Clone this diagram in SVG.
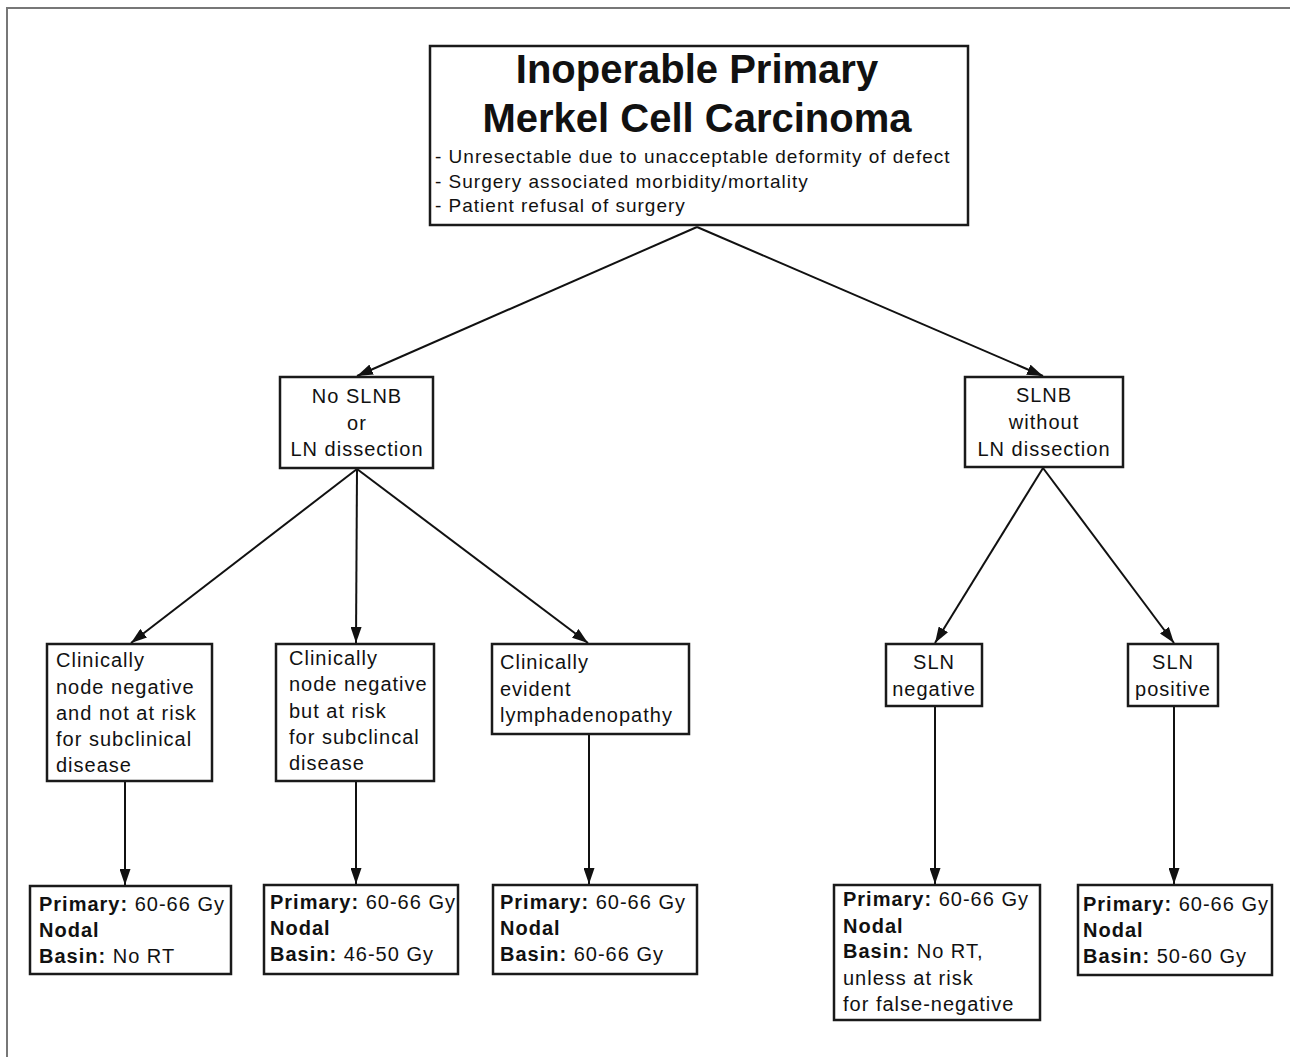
<svg xmlns="http://www.w3.org/2000/svg" width="1290" height="1057" viewBox="0 0 1290 1057">
<style>
.box{fill:#fff;stroke:#1a1a1a;stroke-width:2.5}
.t{font-family:"Liberation Sans",Arial,sans-serif;font-size:20px;letter-spacing:1px;fill:#111}
.c{text-anchor:middle}
.b{font-weight:bold}
.title{font-family:"Liberation Sans",Arial,sans-serif;font-size:40px;font-weight:bold;fill:#111;text-anchor:middle}
.bul{font-family:"Liberation Sans",Arial,sans-serif;font-size:19px;letter-spacing:1px;fill:#111}
.ln{stroke:#111;stroke-width:2;fill:none}
</style>
<defs>
<marker id="ah" viewBox="0 0 16 11" refX="16" refY="5.5" markerWidth="16" markerHeight="11" markerUnits="userSpaceOnUse" orient="auto">
<path d="M0,0 L16,5.5 L0,11 Z" fill="#111"/>
</marker>
</defs>
<rect x="0" y="0" width="1290" height="1057" fill="#fff"/>
<path d="M7,1057 L7,8 L1290,8" stroke="#777" stroke-width="2" fill="none"/>

<g id="connectors">
<line class="ln" x1="697" y1="227" x2="357" y2="376" marker-end="url(#ah)"/>
<line class="ln" x1="697" y1="227" x2="1043" y2="376" marker-end="url(#ah)"/>
<line class="ln" x1="357" y1="469" x2="131" y2="643" marker-end="url(#ah)"/>
<line class="ln" x1="357" y1="469" x2="356" y2="643" marker-end="url(#ah)"/>
<line class="ln" x1="357" y1="469" x2="588" y2="643" marker-end="url(#ah)"/>
<line class="ln" x1="1043" y1="468" x2="935" y2="643" marker-end="url(#ah)"/>
<line class="ln" x1="1043" y1="468" x2="1174" y2="643" marker-end="url(#ah)"/>
<line class="ln" x1="125" y1="782" x2="125" y2="885" marker-end="url(#ah)"/>
<line class="ln" x1="356" y1="782" x2="356" y2="884" marker-end="url(#ah)"/>
<line class="ln" x1="589" y1="735" x2="589" y2="884" marker-end="url(#ah)"/>
<line class="ln" x1="935" y1="707" x2="935" y2="884" marker-end="url(#ah)"/>
<line class="ln" x1="1174" y1="707" x2="1174" y2="884" marker-end="url(#ah)"/>
</g>

<g id="root">
<rect class="box" x="430" y="46" width="538" height="179"/>
<text class="title" x="697" y="83">Inoperable Primary</text>
<text class="title" x="697" y="132">Merkel Cell Carcinoma</text>
<text class="bul" x="435" y="163">- Unresectable due to unacceptable deformity of defect</text>
<text class="bul" x="435" y="188">- Surgery associated morbidity/mortality</text>
<text class="bul" x="435" y="212">- Patient refusal of surgery</text>
</g>

<g id="no-slnb">
<rect class="box" x="280" y="377" width="153" height="91"/>
<text class="t c" x="357" y="403">No SLNB</text>
<text class="t c" x="357" y="430">or</text>
<text class="t c" x="357" y="456">LN dissection</text>
</g>

<g id="slnb">
<rect class="box" x="965" y="377" width="158" height="90"/>
<text class="t c" x="1044" y="402">SLNB</text>
<text class="t c" x="1044" y="429">without</text>
<text class="t c" x="1044" y="456">LN dissection</text>
</g>

<g id="cn-neg-not-risk">
<rect class="box" x="47" y="644" width="165" height="137"/>
<text class="t" x="56" y="667">Clinically</text>
<text class="t" x="56" y="694">node negative</text>
<text class="t" x="56" y="720">and not at risk</text>
<text class="t" x="56" y="746">for subclinical</text>
<text class="t" x="56" y="772">disease</text>
</g>

<g id="cn-neg-risk">
<rect class="box" x="276" y="644" width="158" height="137"/>
<text class="t" x="289" y="665">Clinically</text>
<text class="t" x="289" y="691">node negative</text>
<text class="t" x="289" y="718">but at risk</text>
<text class="t" x="289" y="744">for subclincal</text>
<text class="t" x="289" y="770">disease</text>
</g>

<g id="clin-evident">
<rect class="box" x="492" y="644" width="197" height="90"/>
<text class="t" x="500" y="669">Clinically</text>
<text class="t" x="500" y="696">evident</text>
<text class="t" x="500" y="722">lymphadenopathy</text>
</g>

<g id="sln-neg">
<rect class="box" x="886" y="644" width="96" height="62"/>
<text class="t c" x="934" y="669">SLN</text>
<text class="t c" x="934" y="696">negative</text>
</g>

<g id="sln-pos">
<rect class="box" x="1128" y="644" width="90" height="62"/>
<text class="t c" x="1173" y="669">SLN</text>
<text class="t c" x="1173" y="696">positive</text>
</g>

<g id="rt1">
<rect class="box" x="30" y="886" width="201" height="88"/>
<text class="t" x="39" y="911"><tspan class="b">Primary:</tspan> 60-66 Gy</text>
<text class="t b" x="39" y="937">Nodal</text>
<text class="t" x="39" y="963"><tspan class="b">Basin:</tspan> No RT</text>
</g>

<g id="rt2">
<rect class="box" x="264" y="885" width="194" height="89"/>
<text class="t" x="270" y="909"><tspan class="b">Primary:</tspan> 60-66 Gy</text>
<text class="t b" x="270" y="935">Nodal</text>
<text class="t" x="270" y="961"><tspan class="b">Basin:</tspan> 46-50 Gy</text>
</g>

<g id="rt3">
<rect class="box" x="493" y="885" width="204" height="89"/>
<text class="t" x="500" y="909"><tspan class="b">Primary:</tspan> 60-66 Gy</text>
<text class="t b" x="500" y="935">Nodal</text>
<text class="t" x="500" y="961"><tspan class="b">Basin:</tspan> 60-66 Gy</text>
</g>

<g id="rt4">
<rect class="box" x="834" y="885" width="206" height="135"/>
<text class="t" x="843" y="906"><tspan class="b">Primary:</tspan> 60-66 Gy</text>
<text class="t b" x="843" y="933">Nodal</text>
<text class="t" x="843" y="958"><tspan class="b">Basin:</tspan> No RT,</text>
<text class="t" x="843" y="985">unless at risk</text>
<text class="t" x="843" y="1011">for false-negative</text>
</g>

<g id="rt5">
<rect class="box" x="1078" y="885" width="194" height="90"/>
<text class="t" x="1083" y="911"><tspan class="b">Primary:</tspan> 60-66 Gy</text>
<text class="t b" x="1083" y="937">Nodal</text>
<text class="t" x="1083" y="963"><tspan class="b">Basin:</tspan> 50-60 Gy</text>
</g>
</svg>
